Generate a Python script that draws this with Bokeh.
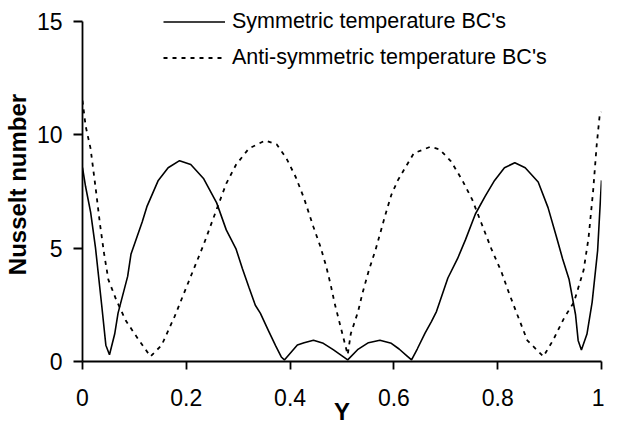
from bokeh.plotting import figure
from bokeh.models import Range1d, FixedTicker, Legend, LegendItem
from bokeh.embed import file_html
from bokeh.resources import INLINE

# ---- data ----
sym_x = [0, 0.006, 0.0157, 0.025, 0.037, 0.045, 0.052, 0.062, 0.0685, 0.087, 0.0935, 0.115,
         0.1245, 0.146, 0.165, 0.187, 0.2086, 0.2336, 0.2585, 0.277, 0.296, 0.308, 0.3208,
         0.333, 0.3426, 0.358, 0.372, 0.383, 0.389, 0.414, 0.427, 0.445, 0.464, 0.483, 0.511,
         0.530, 0.551, 0.573, 0.595, 0.61, 0.625, 0.634, 0.645, 0.66, 0.672, 0.682, 0.704,
         0.7226, 0.738, 0.757, 0.7757, 0.794, 0.813, 0.833, 0.853, 0.878, 0.897, 0.913, 0.925,
         0.9376, 0.950, 0.955, 0.9613, 0.972, 0.982, 0.9925, 1.0]
sym_nu = [8.54, 7.70, 6.57, 5.02, 2.48, 0.72, 0.30, 1.21, 2.13, 3.75, 4.74, 6.15,
          6.85, 7.98, 8.54, 8.85, 8.68, 8.05, 6.99, 5.80, 4.95, 4.10, 3.26,
          2.48, 2.13, 1.37, 0.70, 0.20, 0.07, 0.73, 0.83, 0.94, 0.80, 0.52, 0.07,
          0.52, 0.83, 0.94, 0.80, 0.55, 0.25, 0.07, 0.55, 1.25, 1.75, 2.20, 3.68,
          4.53, 5.37, 6.50, 7.28, 7.98, 8.54, 8.76, 8.54, 7.91, 6.78, 5.51, 4.53,
          3.61, 2.06, 0.93, 0.51, 1.21, 2.62, 4.88, 7.98]

anti_x = [0, 0.006, 0.0155, 0.025, 0.034, 0.0417, 0.0498, 0.0654, 0.084, 0.109, 0.131, 0.1525,
          0.1776, 0.2086, 0.2336, 0.2585, 0.277, 0.296, 0.3208, 0.352, 0.374, 0.3925, 0.411,
          0.4267, 0.445, 0.458, 0.469, 0.478, 0.486, 0.5015, 0.511, 0.517, 0.531, 0.539, 0.551,
          0.565, 0.584, 0.595, 0.6075, 0.62, 0.6385, 0.67, 0.688, 0.710, 0.732, 0.751, 0.769,
          0.788, 0.807, 0.822, 0.838, 0.857, 0.888, 0.9065, 0.928, 0.947, 0.9656, 0.975, 0.984,
          0.9907, 0.9969, 1.0]
anti_nu = [11.5, 10.38, 9.39, 7.70, 6.00, 4.74, 3.61, 2.69, 1.78, 0.93, 0.22, 0.72,
           1.99, 3.75, 5.16, 6.71, 7.84, 8.68, 9.39, 9.74, 9.57, 8.97, 8.12,
           7.20, 5.93, 5.09, 4.24, 3.40, 2.55, 1.15, 0.30, 1.23, 2.20, 2.97, 3.96,
           4.95, 6.50, 7.34, 7.98, 8.47, 9.18, 9.46, 9.35, 8.82, 7.98, 7.13, 6.07,
           4.95, 3.96, 3.00, 2.05, 0.93, 0.22, 0.93, 1.92, 2.62, 4.03, 5.44, 7.55,
           9.53, 10.94, 11.0]

x_ticks = [0, 0.2, 0.4, 0.6, 0.8, 1]
x_tick_labels = ["0", "0.2", "0.4", "0.6", "0.8", "1"]
y_ticks = [0, 5, 10, 15]
y_axis_bounds = (0, 15)
series_names = ["Symmetric temperature BC's", "Anti-symmetric temperature BC's"]

FONT = "Liberation Sans"

p = figure(width=604, height=427, output_backend="svg", toolbar_location=None,
           x_range=Range1d(0, 1), y_range=Range1d(0, 15.6),
           min_border_left=0, min_border_right=3, min_border_top=7, min_border_bottom=0)
p.outline_line_color = None
p.background_fill_color = "white"
p.border_fill_color = "white"
p.xgrid.visible = False
p.ygrid.visible = False

r1 = p.line(sym_x, sym_nu, line_color="black", line_width=1.6)
r2 = p.line(anti_x, anti_nu, line_color="black", line_width=1.8, line_dash="4 5")

for ax in (p.xaxis[0], p.yaxis[0]):
    ax.axis_line_color = "black"
    ax.axis_line_width = 1.8
    ax.major_tick_line_color = "black"
    ax.major_tick_line_width = 1.8
    ax.major_tick_in = 0
    ax.minor_tick_line_color = None
    ax.major_label_text_font = FONT
    ax.major_label_text_font_size = "23px"
    ax.major_label_text_color = "black"
    ax.axis_label_text_font = FONT
    ax.axis_label_text_font_size = "24px"
    ax.axis_label_text_font_style = "bold"
    ax.axis_label_text_color = "black"

p.xaxis[0].ticker = FixedTicker(ticks=x_ticks)
p.xaxis[0].major_label_overrides = {t: l for t, l in zip(x_ticks, x_tick_labels)}
p.xaxis[0].major_tick_out = 8
p.xaxis[0].major_label_standoff = 19
p.xaxis[0].axis_label = "Y"
p.xaxis[0].axis_label_standoff = -11
p.xaxis[0].axis_label_text_line_height = 0.8

p.yaxis[0].ticker = FixedTicker(ticks=y_ticks)
p.yaxis[0].bounds = y_axis_bounds
p.yaxis[0].major_tick_out = 9
p.yaxis[0].major_label_standoff = 11
p.yaxis[0].axis_label = "Nusselt number"
p.yaxis[0].axis_label_standoff = 3

legend = Legend(items=[LegendItem(label=series_names[0], renderers=[r1]),
                       LegendItem(label=series_names[1], renderers=[r2])],
                location=(81, 291))
legend.label_text_font = FONT
legend.label_text_font_size = "21.5px"
legend.label_text_color = "black"
legend.glyph_width = 62
legend.glyph_height = 25
legend.label_height = 25
legend.label_standoff = 7
legend.spacing = 11
legend.padding = 0
legend.margin = 0
legend.background_fill_alpha = 0
legend.border_line_color = None
p.add_layout(legend)

open("out.html", "w").write(file_html(p, INLINE))
